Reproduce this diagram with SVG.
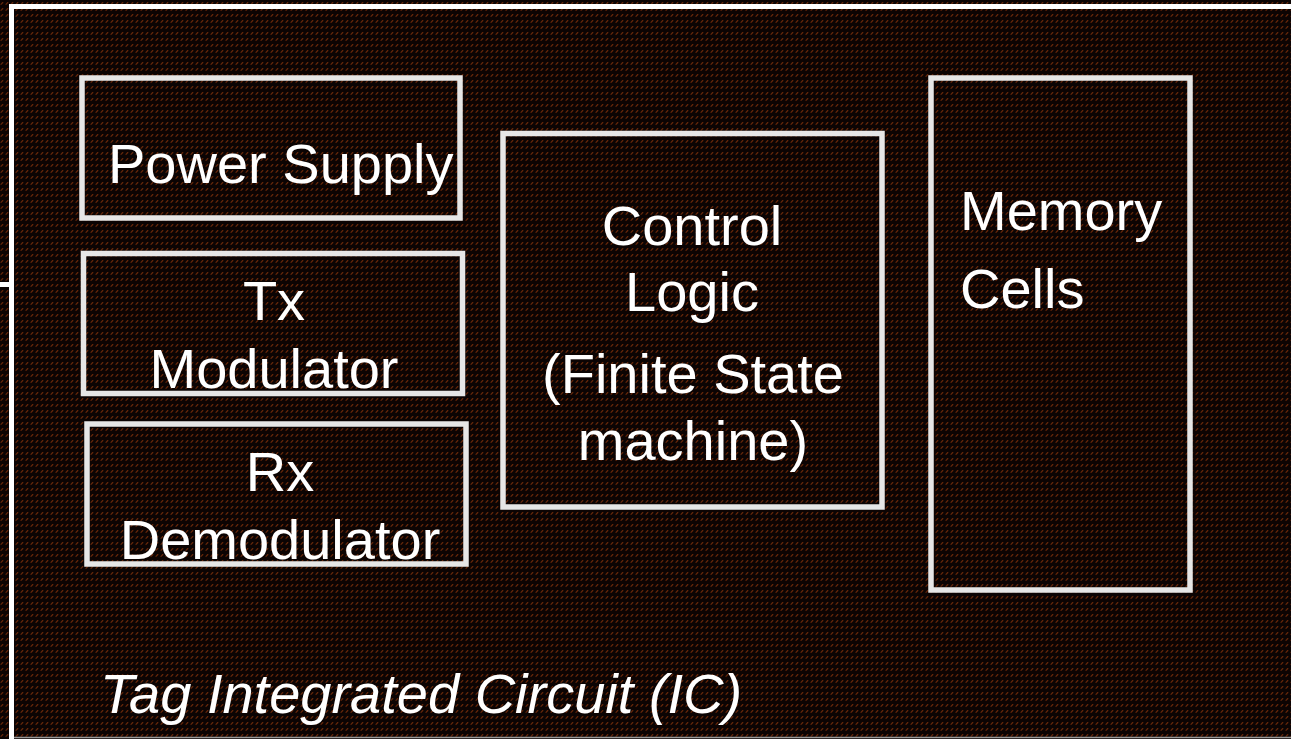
<svg xmlns="http://www.w3.org/2000/svg" width="1291" height="739" viewBox="0 0 1291 739">
  <defs>
    <pattern id="tex" x="0" y="0" width="5" height="6" patternUnits="userSpaceOnUse">
      <rect width="5" height="6" fill="#0c0403"/>
      <path d="M1,4.3 L2.8,2.5" stroke="#b8440c" stroke-width="1.1" stroke-linecap="round" opacity="0.55"/>
    </pattern>
    <style>
      .box { fill: none; stroke: #e6e6e6; stroke-width: 5.5; }
      .lbl { font-family: "Liberation Sans", Arial, sans-serif; font-size: 56px; fill: #ffffff; }
      .mid { text-anchor: middle; }
      .frame { fill: none; stroke: #ffffff; stroke-width: 5; }
    </style>
  </defs>

  <g id="background">
    <rect width="1291" height="739" fill="url(#tex)"/>
  </g>

  <g id="ic-frame">
    <path class="frame" d="M11.5,739 V6.5 H1291"/>
    <path class="frame" d="M0,284.5 H9"/>
    <path d="M14,737.5 H1291" stroke="#9a9a9a" stroke-width="1.5" fill="none"/>
    <text class="lbl" x="100" y="713" font-style="italic">Tag Integrated Circuit (IC)</text>
  </g>

  <g id="power-supply">
    <rect class="box" x="82" y="78" width="378" height="140"/>
    <text class="lbl" x="108" y="183">Power Supply</text>
  </g>

  <g id="tx-modulator">
    <rect class="box" x="83.5" y="253.5" width="379" height="140"/>
    <text class="lbl mid" x="274" y="320">Tx</text>
    <text class="lbl mid" x="274" y="388">Modulator</text>
  </g>

  <g id="rx-demodulator">
    <rect class="box" x="87" y="424" width="379" height="140"/>
    <text class="lbl mid" x="280" y="491">Rx</text>
    <text class="lbl mid" x="280" y="559">Demodulator</text>
  </g>

  <g id="control-logic">
    <rect class="box" x="503" y="133.5" width="379" height="373.5"/>
    <text class="lbl mid" x="692" y="245">Control</text>
    <text class="lbl mid" x="692" y="311">Logic</text>
    <text class="lbl mid" x="693" y="393">(Finite State</text>
    <text class="lbl mid" x="693" y="460">machine)</text>
  </g>

  <g id="memory-cells">
    <rect class="box" x="931" y="78" width="259" height="512"/>
    <text class="lbl" x="960" y="230">Memory</text>
    <text class="lbl" x="960" y="308">Cells</text>
  </g>

  <g id="connectors"></g>
</svg>
